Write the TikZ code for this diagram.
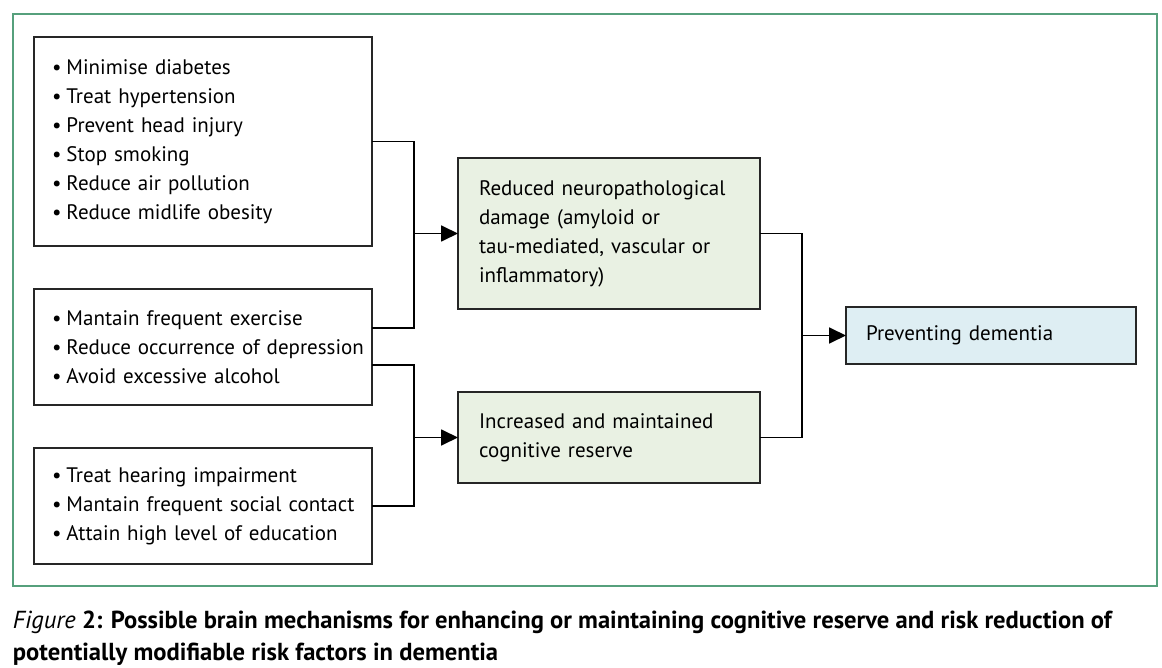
\documentclass[tikz,border=0pt]{standalone}
\usepackage{fontspec}
\setmainfont{PT Sans}
\usetikzlibrary{arrows.meta,positioning}
\definecolor{framegreen}{RGB}{86,160,124}
\definecolor{causefill}{RGB}{233,241,227}
\definecolor{goalfill}{RGB}{222,238,243}
\newcommand{\riskitem}[1]{\mbox{\hspace*{2pt}\textbullet\hspace{2.5pt}#1}}

\begin{document}
\begin{tikzpicture}[x=0.5pt,y=-0.5pt,>={Triangle[length=8.5pt,width=8pt]},
                    line width=0.9pt,node distance=21.5pt and 43pt,
                    font=\fontsize{10.5}{14.5}\selectfont]
  \tikzstyle{factor}=[rectangle,draw=black!85,fill=white,align=left,
                      text width=155pt,inner xsep=7pt,inner ysep=0pt,
                      minimum height=58pt,outer sep=0pt]
  \tikzstyle{effect}=[factor,fill=causefill,text width=130pt,inner xsep=10.5pt]

  \useasboundingbox (0,0) rectangle (1162,668);
  \draw[framegreen,line width=0.7pt] (13,14) rectangle (1157,586);

  \node[factor,minimum height=104.5pt,anchor=north west] (risk)   at (34,37)
    {\riskitem{Minimise diabetes}\\ \riskitem{Treat hypertension}\\
     \riskitem{Prevent head injury}\\ \riskitem{Stop smoking}\\
     \riskitem{Reduce air pollution}\\ \riskitem{Reduce midlife obesity}};
  \node[factor] (life)   [below=of risk]
    {\riskitem{Mantain frequent exercise}\\
     \riskitem{Reduce occurrence of depression}\\
     \riskitem{Avoid excessive alcohol}};
  \node[factor] (social) [below=of life]
    {\riskitem{Treat hearing impairment}\\
     \riskitem{Mantain frequent social contact}\\
     \riskitem{Attain high level of education}};

  \node[effect,minimum height=75.5pt,anchor=north west] (damage)  at (458,158)
    {Reduced neuropathological damage (amyloid or\\ tau-mediated, vascular or\\ inflammatory)};
  \node[effect,minimum height=45.5pt,anchor=north west] (reserve) at (458,392)
    {Increased and maintained\\ cognitive reserve};
  \node[effect,fill=goalfill,text width=125pt,inner xsep=10pt,
        minimum height=28.5pt,anchor=north west] (dementia) at (846,307)
    {Preventing dementia};

  \draw (risk.east) -- ++(21pt,0) coordinate (jrisk) |- ([yshift=9.5pt]life.east);
  \draw[->] (jrisk |- damage.west) -- (damage.west);
  \draw ([yshift=-9pt]life.east) -- ++(21pt,0) coordinate (jlife) |- (social.east);
  \draw[->] (jlife |- reserve.west) -- (reserve.west);
  \draw (damage.east) -- ++(21pt,0) coordinate (jdamage) |- (reserve.east);
  \draw[->] (jdamage |- dementia.west) -- (dementia.west);

  \node[anchor=north west,inner sep=0pt,align=left,
        font=\fontsize{12.3}{16}\bfseries\selectfont] (caption) at (12,610)
    {{\mdseries\itshape Figure} 2: Possible brain mechanisms for enhancing or maintaining cognitive reserve and risk reduction of\\
     potentially modifiable risk factors in dementia};
\end{tikzpicture}
\end{document}
